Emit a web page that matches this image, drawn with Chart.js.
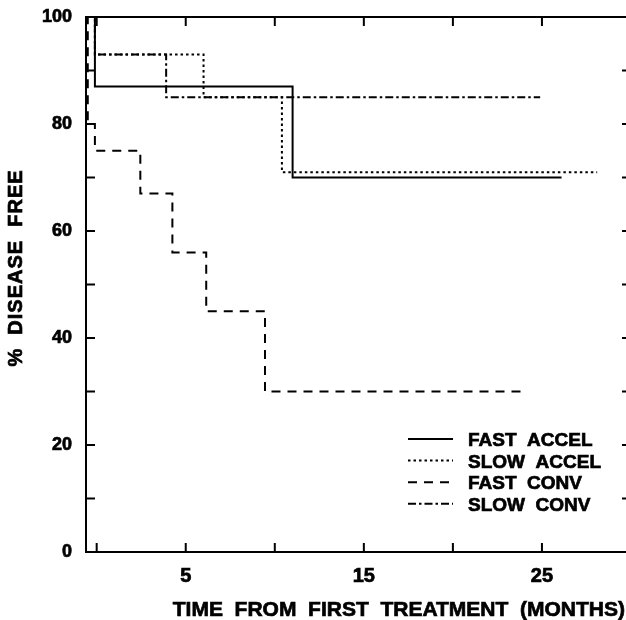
<!DOCTYPE html>
<html lang="en">
<head>
  <meta charset="UTF-8" />
  <title>Disease Free Survival</title>
  <script src="https://cdn.jsdelivr.net/npm/chart.js"></script>
  <style>
    html, body { margin: 0; padding: 0; background: #fff; overflow: hidden; }
    canvas { display: block; }
  </style>
</head>
<body>
  <canvas id="dfsChart" width="640" height="620"></canvas>

  <script>
    // Each curve: month of each drop and the % disease free after it
    const fastAccelMonths = [-0.6, -0.1, 11.0, 26.1];
    const fastAccelPct    = [100, 87, 70, 70];

    const slowAccelMonths = [-0.6, -0.1, 6.0, 10.4, 28.1];
    const slowAccelPct    = [100, 93, 85, 71, 71];

    const fastConvMonths  = [-0.6, -0.5, -0.1, 2.45, 4.25, 6.15, 9.45, 24.1];
    const fastConvPct     = [100, 80, 75, 67, 56, 45, 30, 30];

    const slowConvMonths  = [-0.6, -0.1, 3.9, 24.9];
    const slowConvPct     = [100, 93, 85, 85];

    const xTickValues  = [0, 5, 10, 15, 20, 25, 30];
    const xTickLabels  = [5, 15, 25];
    const yTickValues  = [0, 10, 20, 30, 40, 50, 60, 70, 80, 90, 100];
    const yTickLabels  = [0, 20, 40, 60, 80, 100];

    const FONT = "'Liberation Sans', Arial, sans-serif";
    const TICK_LEN = 9;

    function steps(months, pct) {
      return months.map((m, i) => ({ x: m, y: pct[i] }));
    }

    function curve(label, months, pct, dash) {
      return {
        label: label,
        data: steps(months, pct),
        stepped: true,
        borderColor: '#000',
        borderWidth: 2,
        borderDash: dash,
        pointRadius: 0,
        fill: false,
      };
    }

    // heavier type: fill plus a thin outline
    function boldText(ctx, text, x, y) {
      ctx.fillText(text, x, y);
      ctx.strokeText(text, x, y);
    }

    // box on all four sides, inward ticks, axis titles and the key
    const framePlugin = {
      id: 'frame',
      afterDraw(chart) {
        const ctx = chart.ctx;
        const a = chart.chartArea;
        const xs = chart.scales.x;
        const ys = chart.scales.y;

        ctx.save();
        ctx.strokeStyle = '#000';
        ctx.lineWidth = 2;
        ctx.beginPath();
        ctx.moveTo(a.left, a.top);
        ctx.lineTo(a.right, a.top);
        ctx.lineTo(a.right, a.bottom);
        ctx.stroke();

        ctx.beginPath();
        xTickValues.forEach(v => {
          const px = xs.getPixelForValue(v);
          ctx.moveTo(px, a.bottom);
          ctx.lineTo(px, a.bottom - TICK_LEN);
          ctx.moveTo(px, a.top);
          ctx.lineTo(px, a.top + TICK_LEN);
        });
        yTickValues.forEach(v => {
          const py = ys.getPixelForValue(v);
          ctx.moveTo(a.left, py);
          ctx.lineTo(a.left + TICK_LEN, py);
          ctx.moveTo(a.right, py);
          ctx.lineTo(a.right - TICK_LEN, py);
        });
        ctx.stroke();

        // axis titles
        ctx.fillStyle = '#000';
        ctx.lineWidth = 0.7;
        ctx.font = 'bold 21px ' + FONT;
        ctx.textAlign = 'right';
        ctx.textBaseline = 'alphabetic';
        boldText(ctx, 'TIME  FROM  FIRST  TREATMENT  (MONTHS)', a.right - 6, a.bottom + 64);

        ctx.save();
        ctx.translate(22, 268);
        ctx.rotate(-Math.PI / 2);
        ctx.font = 'bold 20px ' + FONT;
        ctx.textAlign = 'center';
        if ('letterSpacing' in ctx) ctx.letterSpacing = '1px';
        boldText(ctx, '%  DISEASE  FREE', 0, 0);
        ctx.restore();

        // key
        ctx.font = 'bold 19px ' + FONT;
        ctx.textAlign = 'left';
        chart.data.datasets.forEach((ds, i) => {
          const base = 446 + i * 21.6;
          const mid = base - 7;
          ctx.setLineDash(ds.borderDash || []);
          ctx.lineWidth = 2;
          ctx.beginPath();
          ctx.moveTo(408, mid);
          ctx.lineTo(453, mid);
          ctx.stroke();
          ctx.setLineDash([]);
          ctx.lineWidth = 0.7;
          boldText(ctx, ds.label, 468, base);
        });
        ctx.restore();
      }
    };

    const ctx = document.getElementById('dfsChart').getContext('2d');
    const chart = new Chart(ctx, {
      type: 'line',
      data: {
        datasets: [
          curve('FAST  ACCEL', fastAccelMonths, fastAccelPct, []),
          curve('SLOW  ACCEL', slowAccelMonths, slowAccelPct, [2.5, 3]),
          curve('FAST  CONV', fastConvMonths, fastConvPct, [9, 7]),
          curve('SLOW  CONV', slowConvMonths, slowConvPct, [8, 3, 2.5, 3]),
        ]
      },
      options: {
        responsive: false,
        animation: false,
        layout: { padding: { top: 17, right: 9, left: 0, bottom: 0 } },
        plugins: {
          legend: { display: false },
          tooltip: { enabled: false },
        },
        scales: {
          x: {
            type: 'linear',
            min: -0.6,
            max: 30,
            grid: { display: false, drawTicks: false },
            border: { color: '#000', width: 2 },
            afterBuildTicks: s => { s.ticks = xTickValues.map(v => ({ value: v })); },
            afterFit: s => { s.height = 68; s.paddingLeft = 0; s.paddingRight = 0; },
            ticks: {
              autoSkip: false,
              maxRotation: 0,
              padding: 12,
              color: '#000',
              textStrokeColor: '#000',
              textStrokeWidth: 0.7,
              font: { family: FONT, size: 20, weight: 'bold' },
              callback: v => xTickLabels.includes(v) ? String(v) : '',
            },
          },
          y: {
            min: 0,
            max: 100,
            grid: { display: false, drawTicks: false },
            border: { color: '#000', width: 2 },
            afterBuildTicks: s => { s.ticks = yTickValues.map(v => ({ value: v })); },
            afterFit: s => { s.width = 86; s.paddingTop = 0; s.paddingBottom = 0; },
            ticks: {
              padding: 14,
              color: '#000',
              textStrokeColor: '#000',
              textStrokeWidth: 0.7,
              font: { family: FONT, size: 18, weight: 'bold' },
              callback: v => yTickLabels.includes(v) ? String(v) : '',
            },
          },
        },
      },
      plugins: [framePlugin],
    });
  </script>
</body>
</html>
